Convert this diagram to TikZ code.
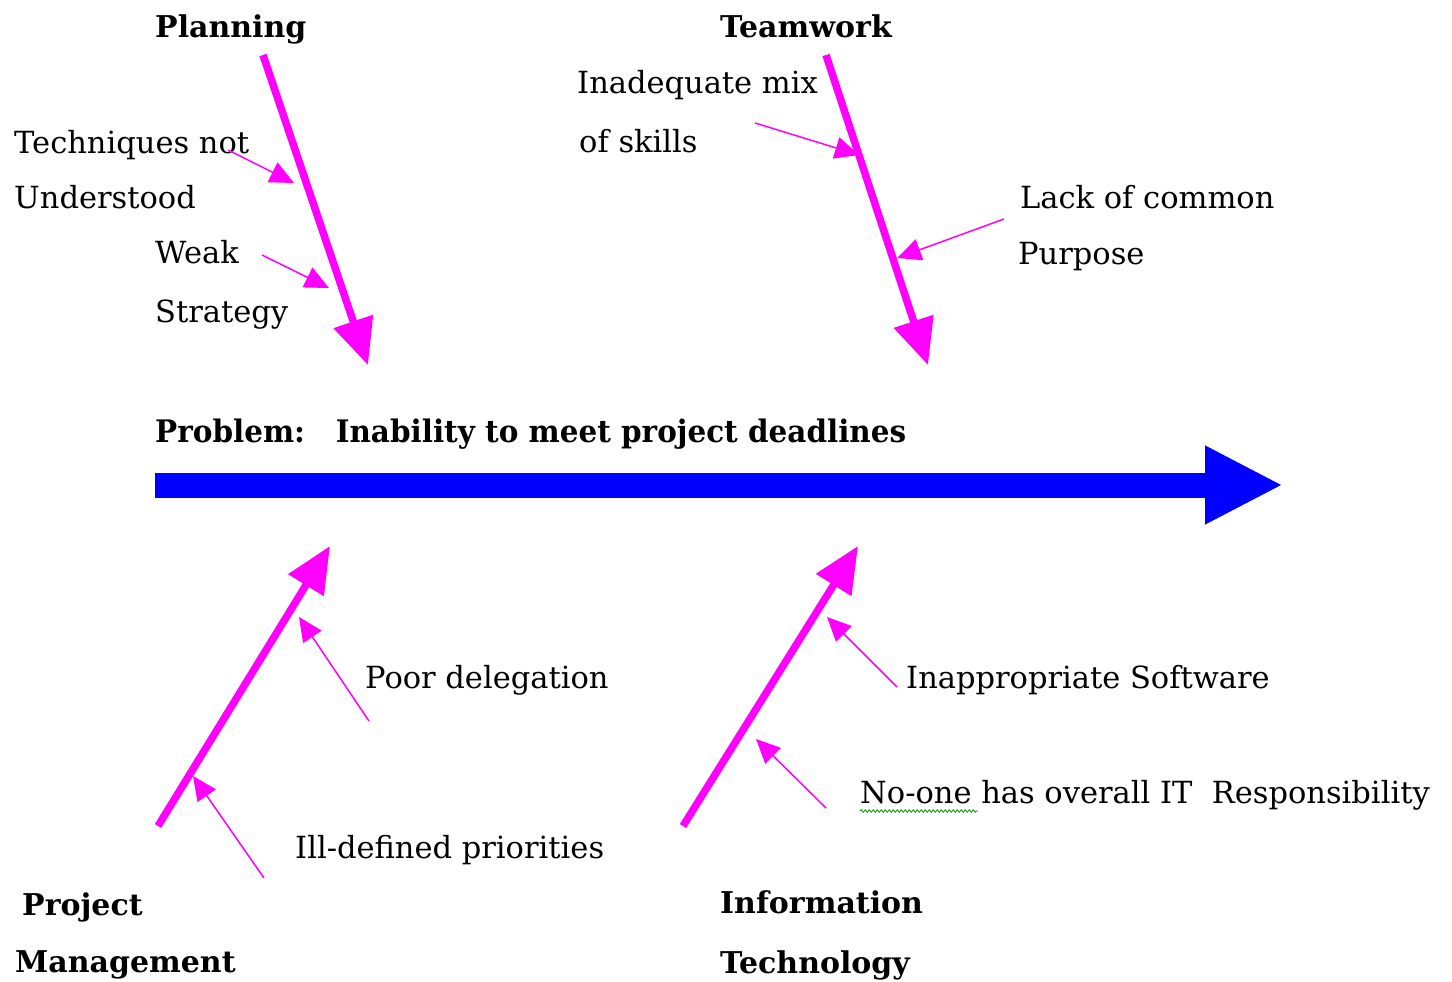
\documentclass[tikz,border=0pt]{standalone}
\usepackage{fontspec}
\setmainfont{DejaVu Serif}
\usetikzlibrary{arrows.meta,decorations.pathmorphing}
\definecolor{mag}{RGB}{255,0,255}
\definecolor{spinecol}{RGB}{0,0,255}
\definecolor{squig}{RGB}{0,150,0}
\begin{document}
\begin{tikzpicture}[x=1pt,y=-1pt,
  lbl/.style={anchor=base west, inner sep=0pt, font=\fontsize{30.5}{36}\selectfont},
  hdr/.style={anchor=base west, inner sep=0pt, font=\fontsize{30}{36}\selectfont\bfseries},
  bone/.style={draw=mag, line width=7.5pt, -{Triangle[length=46pt,width=40pt]}},
  cause/.style={draw=mag, line width=1.5pt, -{Triangle[length=24pt,width=22pt]}},
  spinearrow/.style={draw=spinecol, line width=25pt, -{Triangle[length=78pt,width=73pt]}},
]
\useasboundingbox (0,0) rectangle (1452,982);

% headings
\node[hdr] (planning) at (155,38) {Planning};
\node[hdr] (teamwork) at (720,38) {Teamwork};
\node[hdr] (project) at (22,915) {Project};
\node[hdr] (management) at (15,972) {Management};
\node[hdr] (information) at (720,913) {Information};
\node[hdr] (technology) at (720,973) {Technology};

% problem
\node[hdr, font=\fontsize{31}{36}\selectfont\bfseries] (problem) at (155,442) {\scalebox{0.95}[1]{Problem:\ \ \ Inability to meet project deadlines}};

% cause labels
\node[lbl] (tech) at (14,153) {Techniques not};
\node[lbl] (under) at (14,208) {Understood};
\node[lbl] (weak) at (155,263) {Weak};
\node[lbl] (strat) at (155,322) {Strategy};
\node[lbl] (inad) at (577,93) {Inadequate mix};
\node[lbl] (skills) at (579,152) {of skills};
\node[lbl] (lack) at (1020,208) {Lack of common};
\node[lbl] (purpose) at (1018,264) {Purpose};
\node[lbl] (poor) at (365,688) {Poor delegation};
\node[lbl] (ill) at (295,858) {Ill-defined priorities};
\node[lbl] (soft) at (906,688) {Inappropriate Software};
\node[lbl] (noone) at (860,803) {No-one has overall IT\ \ Responsibility};

% spine
\coordinate (s0) at (155,485);
\coordinate (s1) at (1283,485);
\draw[spinearrow] (s0) -- (s1);

% bones
\coordinate (p0) at (263,55);   \coordinate (p1) at (368,365);
\coordinate (t0) at (826,55);   \coordinate (t1) at (928,365);
\coordinate (m0) at (158,826);  \coordinate (m1) at (330,546);
\coordinate (i0) at (683,826);  \coordinate (i1) at (858,546);
\draw[bone] (p0) -- (p1);
\draw[bone] (t0) -- (t1);
\draw[bone] (m0) -- (m1);
\draw[bone] (i0) -- (i1);

% causes
\coordinate (c1a) at (228,150); \coordinate (c1b) at (294,183);
\coordinate (c2a) at (262,255); \coordinate (c2b) at (329,288);
\coordinate (c3a) at (755,123); \coordinate (c3b) at (859,155);
\coordinate (c4a) at (1004,219); \coordinate (c4b) at (897,258);
\coordinate (c5a) at (369,721); \coordinate (c5b) at (299,617);
\coordinate (c6a) at (264,878); \coordinate (c6b) at (193,776);
\coordinate (c7a) at (897,687); \coordinate (c7b) at (827,617);
\coordinate (c8a) at (826,808); \coordinate (c8b) at (756,739);
\draw[cause] (c1a) -- (c1b);
\draw[cause] (c2a) -- (c2b);
\draw[cause] (c3a) -- (c3b);
\draw[cause] (c4a) -- (c4b);
\draw[cause] (c5a) -- (c5b);
\draw[cause] (c6a) -- (c6b);
\draw[cause] (c7a) -- (c7b);
\draw[cause] (c8a) -- (c8b);

% spell-check underline
\coordinate (w0) at (860,811); \coordinate (w1) at (978,811);
\draw[squig, line width=0.8pt, decorate, decoration={snake, amplitude=1.3pt, segment length=4pt}] (w0) -- (w1);
\end{tikzpicture}
\end{document}
